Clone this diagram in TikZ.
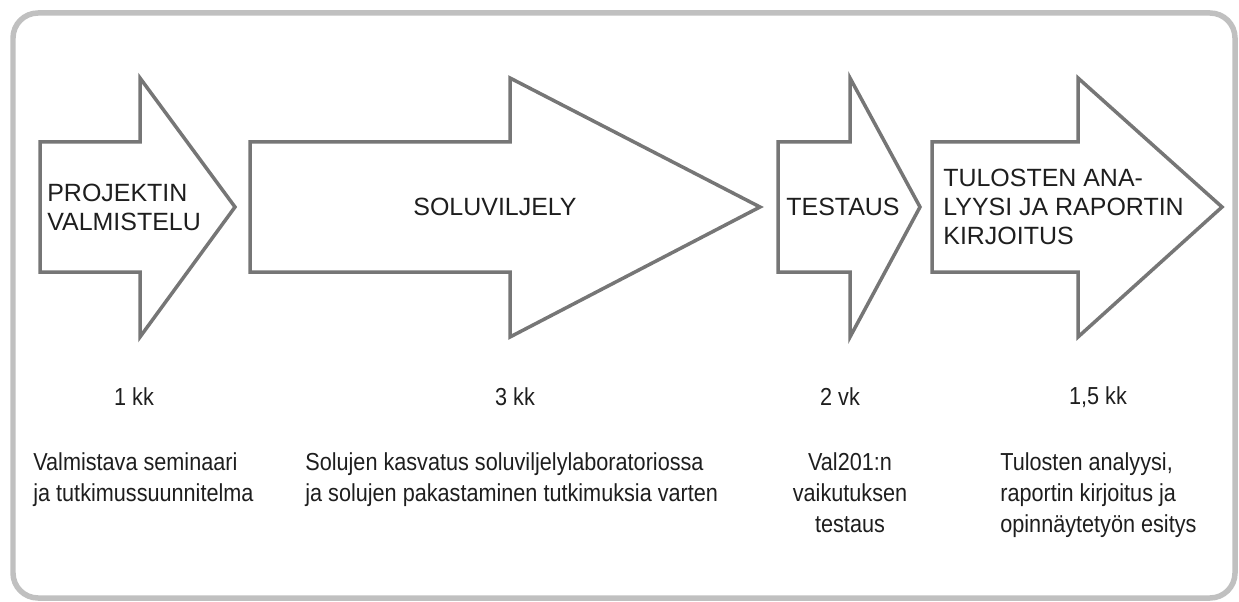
\documentclass[tikz,border=0pt]{standalone}
\usepackage{fontspec}
\setmainfont{Liberation Sans}
\newfontfamily\narrowfont[FakeStretch=0.88]{Liberation Sans}
\usepackage{tikz}
\definecolor{cFrame}{RGB}{192,192,192}
\definecolor{cArrow}{RGB}{118,118,118}
\definecolor{cText}{RGB}{30,30,30}
\tikzset{
	frame/.style    ={draw=cFrame, line width=0.11cm, rounded corners=0.5cm},
	phase/.style    ={draw=cArrow, line width=0.07cm, fill=white, line join=miter},
	phasetext/.style={inner sep=0pt, align=left, text=cText, font=\fontsize{14.2}{16.5}\selectfont},
	duration/.style ={inner sep=0pt, text=cText, font=\narrowfont\fontsize{14}{17.6}\selectfont},
	desc/.style     ={inner sep=0pt, align=left, text=cText, font=\narrowfont\fontsize{14}{17.6}\selectfont},
}
\begin{document}
\begin{tikzpicture}[x=0.02cm, y=-0.02cm]
	\useasboundingbox (0,0) rectangle (1239,601);
	\draw[frame] (13,13) rectangle (1235,598);
	% block arrows: shaft start / head start / tip
	\foreach \xa/\xb/\xc in {40/140/235, 250/510/760, 778/850/920, 932/1078/1222} {
		\draw[phase] (\xa,142) -- (\xb,142) -- (\xb,78) -- (\xc,207) -- (\xb,337) -- (\xb,272) -- (\xa,272) -- cycle;
	}
	\node[phasetext, anchor=west] (valm) at (47,207) {PROJEKTIN\\VALMISTELU};
	\node[phasetext] (solu) at (495,207) {SOLUVILJELY};
	\node[phasetext, anchor=west] (test) at (786,207) {TESTAUS};
	\node[phasetext, anchor=west] (tulo) at (943,207) {TULOSTEN ANA-\\LYYSI JA RAPORTIN\\KIRJOITUS};
	% durations
	\node[duration] (d1) at (134,397) {1 kk};
	\node[duration] (d2) at (515,397) {3 kk};
	\node[duration] (d3) at (840,397) {2 vk};
	\node[duration] (d4) at (1098,397) {1,5 kk};
	% descriptions
	\node[desc, anchor=north west] (t1) at (33,452) {Valmistava seminaari\\ja tutkimussuunnitelma};
	\node[desc, anchor=north west] (t2) at (305,452) {Solujen kasvatus soluviljelylaboratoriossa\\ja solujen pakastaminen tutkimuksia varten};
	\node[desc, anchor=north, align=center] (t3) at (850,452) {Val201:n\\vaikutuksen\\testaus};
	\node[desc, anchor=north west] (t4) at (1000,452) {Tulosten analyysi,\\raportin kirjoitus ja\\opinnäytetyön esitys};
\end{tikzpicture}
\end{document}
